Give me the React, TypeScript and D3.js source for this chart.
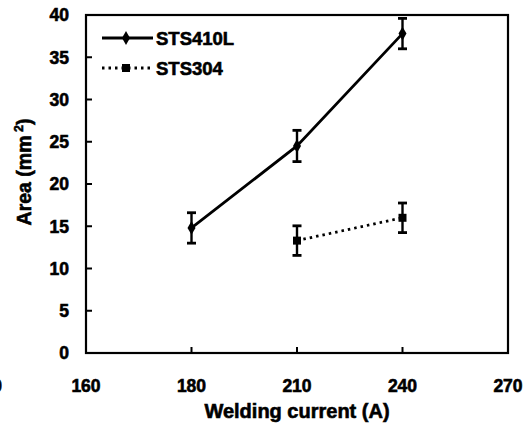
import React from "react";
import * as d3 from "d3";

const currents410 = [180, 210, 240];
const area410 = [14.8, 24.5, 37.8];
const err410 = [1.8, 1.85, 1.8];

const currents304 = [210, 240];
const area304 = [13.3, 16.0];
const err304 = [1.75, 1.75];

const xTickValues = [150, 180, 210, 240, 270];
const xTickLabels = ["160", "180", "210", "240", "270"];
const yTickValues = [0, 5, 10, 15, 20, 25, 30, 35, 40];

const W = 528;
const H = 431;
const left = 86;
const right = 508;
const top = 15;
const bottom = 353;

const FONT = "'Liberation Sans', Arial, Helvetica, sans-serif";

export default function App() {
  const x = d3.scaleLinear().domain([150, 270]).range([left, right]);
  const y = d3.scaleLinear().domain([0, 40]).range([bottom, top]);

  const line = d3
    .line<[number, number]>()
    .x((d) => x(d[0]))
    .y((d) => y(d[1]));

  const pts410: [number, number][] = currents410.map((c, i) => [c, area410[i]]);
  const pts304: [number, number][] = currents304.map((c, i) => [c, area304[i]]);

  const diamond = d3.symbol().type(d3.symbolDiamond).size(55)() as string;
  const square = d3.symbol().type(d3.symbolSquare).size(64)() as string;

  const errBar = (cx: number, v: number, e: number, key: string) => {
    const px = x(cx);
    const y1 = y(Math.min(40, v + e));
    const y2 = y(v - e);
    return (
      <g key={key} stroke="#000">
        <line x1={px} x2={px} y1={y1} y2={y2} strokeWidth={2.4} />
        <line x1={px - 4.5} x2={px + 4.5} y1={y1} y2={y1} strokeWidth={2.8} />
        <line x1={px - 4.5} x2={px + 4.5} y1={y2} y2={y2} strokeWidth={2.8} />
      </g>
    );
  };

  const textStroke = { stroke: "#000", strokeWidth: 0.6 };

  return (
    <svg
      width={W}
      height={H}
      style={{ position: "absolute", left: 0, top: 0, background: "#fff" }}
      fontFamily={FONT}
      fontWeight="bold"
    >
      <rect x={0} y={0} width={W} height={H} fill="#fff" />

      {/* frame */}
      <rect
        x={left}
        y={top}
        width={right - left}
        height={bottom - top}
        fill="none"
        stroke="#000"
        strokeWidth={2.2}
      />

      {/* y ticks */}
      {yTickValues.map((v) => (
        <g key={"y" + v}>
          {v > 0 && v < 40 && (
            <line x1={left} x2={left + 6} y1={y(v)} y2={y(v)} stroke="#000" strokeWidth={2} />
          )}
          <text x={69} y={y(v)} dy="0.36em" textAnchor="end" fontSize={17.5} fill="#000" {...textStroke}>
            {v}
          </text>
        </g>
      ))}

      {/* x ticks */}
      {xTickValues.map((v, i) => (
        <g key={"x" + v}>
          {v > 150 && v < 270 && (
            <line x1={x(v)} x2={x(v)} y1={bottom} y2={bottom - 6} stroke="#000" strokeWidth={2} />
          )}
          <text x={x(v)} y={392} textAnchor="middle" fontSize={17.5} fill="#000" {...textStroke}>
            {xTickLabels[i]}
          </text>
        </g>
      ))}
      <text x={x(150) - 84} y={392} textAnchor="end" fontSize={17.5} fill="#000" {...textStroke}>
        150
      </text>

      {/* axis titles */}
      <text x={297} y={418} textAnchor="middle" fontSize={20} fill="#000" {...textStroke}>
        Welding current (A)
      </text>
      <text
        transform={`translate(31, 172) rotate(-90)`}
        textAnchor="middle"
        fontSize={19.5}
        fill="#000"
        {...textStroke}
      >
        Area (mm
        <tspan fontSize={12.5} dy={-8}>
          {" 2"}
        </tspan>
        <tspan dy={8}>)</tspan>
      </text>

      {/* STS410L */}
      <path d={line(pts410) as string} fill="none" stroke="#000" strokeWidth={2.8} />
      {pts410.map((p, i) => errBar(p[0], p[1], err410[i], "e410" + i))}
      {pts410.map((p, i) => (
        <path key={"m410" + i} d={diamond} transform={`translate(${x(p[0])},${y(p[1])})`} fill="#000" />
      ))}

      {/* STS304 */}
      <path
        d={line(pts304) as string}
        fill="none"
        stroke="#000"
        strokeWidth={2.8}
        strokeDasharray="2.5 4"
      />
      {pts304.map((p, i) => errBar(p[0], p[1], err304[i], "e304" + i))}
      {pts304.map((p, i) => (
        <path key={"m304" + i} d={square} transform={`translate(${x(p[0])},${y(p[1])})`} fill="#000" />
      ))}

      {/* legend */}
      <g>
        <line x1={102} x2={153} y1={38} y2={38} stroke="#000" strokeWidth={2.8} />
        <path d={diamond} transform="translate(126,38)" fill="#000" />
        <text x={156} y={38} dy="0.36em" fontSize={18.5} fill="#000" {...textStroke}>
          STS410L
        </text>
        <line
          x1={102}
          x2={153}
          y1={68}
          y2={68}
          stroke="#000"
          strokeWidth={2.8}
          strokeDasharray="2.5 4"
        />
        <path d={square} transform="translate(126,68)" fill="#000" />
        <text x={156} y={68} dy="0.36em" fontSize={18.5} fill="#000" {...textStroke}>
          STS304
        </text>
      </g>
    </svg>
  );
}
